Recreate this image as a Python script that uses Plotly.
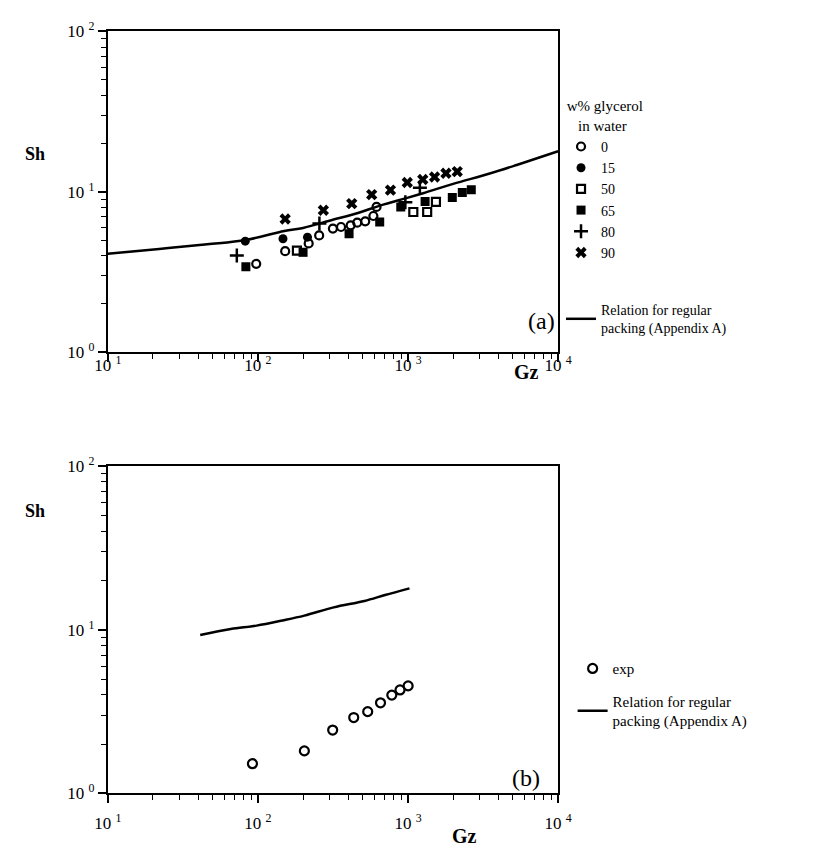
import plotly.graph_objects as go

# ---------------- Panel (a) data ----------------
gz_curve_a = [10, 22, 46, 83, 150, 200, 300, 470, 650, 1000, 1260, 2000, 3500, 5300, 10000]
sh_curve_a = [4.1, 4.4, 4.7, 5.0, 5.7, 5.95, 6.6, 7.4, 8.2, 9.2, 9.8, 11.2, 13.0, 14.7, 17.9]

gz_w0 = [97.5, 152, 218, 256, 316, 358, 415, 459, 519, 588, 617]
sh_w0 = [3.55, 4.26, 4.76, 5.34, 5.89, 6.03, 6.18, 6.42, 6.54, 7.06, 8.05]

gz_w15 = [82.4, 147, 214]
sh_w15 = [4.92, 5.09, 5.21]

gz_w50 = [182, 1085, 1342, 1535]
sh_w50 = [4.30, 7.48, 7.48, 8.65]

gz_w65 = [83.2, 200, 405, 648, 895, 1300, 1973, 2300, 2640]
sh_w65 = [3.40, 4.19, 5.47, 6.48, 8.05, 8.7, 9.2, 9.9, 10.3]

gz_w80 = [72.4, 257, 960, 1200]
sh_w80 = [4.0, 6.33, 8.6, 10.6]

gz_w90 = [152, 273, 422, 573, 764, 989, 1254, 1503, 1790, 2128]
sh_w90 = [6.76, 7.67, 8.43, 9.6, 10.25, 11.42, 11.93, 12.37, 13.05, 13.36]

# ---------------- Panel (b) data ----------------
gz_curve_b = [41.3, 66, 98, 146, 204, 320, 513, 703, 1023]
sh_curve_b = [9.29, 10.1, 10.6, 11.4, 12.2, 13.7, 15.0, 16.3, 17.9]

gz_exp = [92, 204, 315, 435, 539, 656, 780, 885, 1002]
sh_exp = [1.52, 1.82, 2.44, 2.91, 3.16, 3.58, 3.99, 4.29, 4.54]

x_tickvals = [10, 100, 1000, 10000]
x_ticktext = ["10 <sup>1</sup>", "10 <sup>2</sup>", "10 <sup>3</sup>", "10 <sup>4</sup>"]
y_tickvals = [1, 10, 100]
y_ticktext = ["10 <sup>0</sup>", "10 <sup>1</sup>", "10 <sup>2</sup>"]
x_minor_vals = [m * 10 ** k for k in (1, 2, 3) for m in range(2, 10)]
y_minor_vals = [m * 10 ** k for k in (0, 1) for m in range(2, 10)]

FONT = "Liberation Serif"
W, H = 835, 859

fig = go.Figure()

def add_markers(x, y, name, symbol, size, lw, xa, ya, legend):
    fig.add_trace(go.Scatter(
        x=x, y=y, mode="markers", name=name, xaxis=xa, yaxis=ya,
        legend=legend, legendgroup="pts_" + legend,
        marker=dict(symbol=symbol, size=size, color="black",
                    line=dict(color="black", width=lw)),
    ))

add_markers(gz_w0, sh_w0, "0", "circle-open", 8, 2.2, "x", "y", "legend")
add_markers(gz_w15, sh_w15, "15", "circle", 9, 0, "x", "y", "legend")
add_markers(gz_w50, sh_w50, "50", "square-open", 8, 2.2, "x", "y", "legend")
add_markers(gz_w65, sh_w65, "65", "square", 9, 0, "x", "y", "legend")
add_markers(gz_w80, sh_w80, "80", "cross-thin", 10, 2.5, "x", "y", "legend")
add_markers(gz_w90, sh_w90, "90", "x", 10, 0, "x", "y", "legend")

fig.add_trace(go.Scatter(
    x=gz_curve_a, y=sh_curve_a, mode="lines", xaxis="x", yaxis="y",
    name="Relation for regular<br>packing (Appendix A)",
    legend="legend", legendgroup="line_a",
    line=dict(color="black", width=2.5, shape="spline"),
))

add_markers(gz_exp, sh_exp, "exp", "circle-open", 9, 2.2, "x2", "y2", "legend2")
fig.add_trace(go.Scatter(
    x=gz_curve_b, y=sh_curve_b, mode="lines", xaxis="x2", yaxis="y2",
    name="Relation for regular<br>packing (Appendix A)",
    legend="legend2", legendgroup="line_b",
    line=dict(color="black", width=2.5, shape="spline"),
))

def px_x(p):
    return p / W

def px_y(p):
    return 1 - p / H

xdom = [px_x(97), px_x(563)]
ydom_a = [px_y(349), px_y(20)]
ydom_b = [px_y(802), px_y(466)]

def xaxis_cfg(standoff):
    return dict(
        type="log", range=[1, 4], tickmode="array", tickvals=x_tickvals, ticktext=x_ticktext,
        showline=True, mirror=True, linecolor="black", linewidth=2,
        ticks="outside", ticklen=8, tickwidth=1.5, tickcolor="black",
        showgrid=False, zeroline=False, ticklabelstandoff=standoff,
        tickfont=dict(family=FONT, size=17, color="black"),
        minor=dict(ticks="outside", ticklen=5, tickwidth=1.3, tickcolor="black",
                   showgrid=False, tickmode="array", tickvals=x_minor_vals),
    )

common_y = dict(
    type="log", range=[0, 2], tickmode="array", tickvals=y_tickvals, ticktext=y_ticktext,
    showline=True, mirror=True, linecolor="black", linewidth=2,
    ticks="outside", ticklen=8, tickwidth=1.5, tickcolor="black",
    showgrid=False, zeroline=False,
    tickfont=dict(family=FONT, size=17, color="black"),
    minor=dict(ticks="outside", ticklen=5, tickwidth=1.3, tickcolor="black",
               showgrid=False, tickmode="array", tickvals=y_minor_vals),
)

fig.update_layout(
    width=W, height=H,
    margin=dict(l=0, r=0, t=0, b=0),
    paper_bgcolor="white", plot_bgcolor="white",
    font=dict(family=FONT, size=16, color="black"),
    xaxis=dict(domain=xdom, anchor="y", **xaxis_cfg(-11)),
    yaxis=dict(domain=ydom_a, anchor="x", **common_y),
    xaxis2=dict(domain=xdom, anchor="y2", **xaxis_cfg(5)),
    yaxis2=dict(domain=ydom_b, anchor="x2", **common_y),
    legend=dict(
        x=px_x(566), y=px_y(82), xanchor="left", yanchor="top",
        title=dict(text="&nbsp;w% glycerol<br>&nbsp;&nbsp;&nbsp;&nbsp;in water",
                   font=dict(family=FONT, size=15)),
        font=dict(family=FONT, size=14, color="black"),
        traceorder="grouped", tracegroupgap=36, itemwidth=30,
        bgcolor="rgba(0,0,0,0)", borderwidth=0,
    ),
    legend2=dict(
        x=px_x(578), y=px_y(657), xanchor="left", yanchor="top",
        font=dict(family=FONT, size=15, color="black"),
        traceorder="grouped", tracegroupgap=10, itemwidth=30,
        bgcolor="rgba(0,0,0,0)", borderwidth=0,
    ),
    showlegend=True,
)

annos = [
    dict(text="<b>Sh</b>", x=px_x(22), y=px_y(146), size=18),
    dict(text="<b>Gz</b>", x=px_x(530), y=px_y(369), size=20),
    dict(text="(a)", x=px_x(546), y=px_y(317), size=24),
    dict(text="<b>Sh</b>", x=px_x(22), y=px_y(512), size=18),
    dict(text="<b>Gz</b>", x=px_x(466), y=px_y(846), size=20),
    dict(text="(b)", x=px_x(530), y=px_y(786), size=24),
]
for a in annos:
    fig.add_annotation(xref="paper", yref="paper", showarrow=False,
                       xanchor="center", yanchor="middle",
                       font=dict(family=FONT, color="black", size=a["size"]),
                       text=a["text"], x=a["x"], y=a["y"])

fig.write_html("out.html")
